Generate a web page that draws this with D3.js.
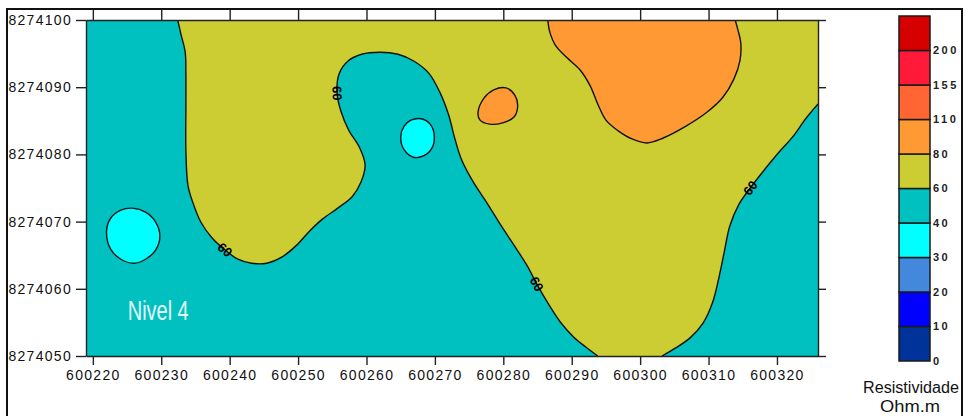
<!DOCTYPE html>
<html>
<head>
<meta charset="utf-8">
<script src="https://cdn.jsdelivr.net/npm/d3@7"></script>
<style>
  body { margin: 0; background: #fff; }
  svg { display: block; }
  .axis text { font-family: "Liberation Sans", Arial, sans-serif; font-size: 14px; letter-spacing: 1.3px; fill: #111; }
  .axis path, .axis line { stroke: #222; stroke-width: 1.4px; }
</style>
</head>
<body>
<svg id="chart" width="966" height="416"></svg>
<script>
// extents + ticks (easting / northing, UTM metres)
const xDomain = [600219, 600326];
const yDomain = [8274050, 8274100];
const xTicks = [600220, 600230, 600240, 600250, 600260, 600270, 600280, 600290, 600300, 600310, 600320];
const yTicks = [8274050, 8274060, 8274070, 8274080, 8274090, 8274100];

// colour scale (Ohm.m)
const legendBreaks = [0, 10, 20, 30, 40, 60, 80, 110, 155, 200];
const legendColors = ['#003399', '#0000ff', '#4488dd', '#00ffff', '#00c0c0', '#cccc33', '#ff9933', '#ff6633', '#ff1a3a', '#d60000'];

// isolines, [easting, northing]
const contour60West = [
  [600232.4, 8274100.0], [600232.9, 8274097.8], [600233.5, 8274095.2], [600233.6, 8274091.8],
  [600233.6, 8274086.6], [600233.6, 8274080.7], [600233.9, 8274075.4], [600234.6, 8274072.9],
  [600235.8, 8274069.9], [600237.4, 8274067.6], [600239.3, 8274065.8], [600241.2, 8274064.4],
  [600243.2, 8274063.8], [600245.4, 8274063.8], [600247.6, 8274064.7], [600249.8, 8274066.5],
  [600251.7, 8274068.6], [600253.6, 8274070.4], [600255.8, 8274072.0], [600257.9, 8274073.7],
  [600259.2, 8274075.9], [600259.8, 8274078.4], [600259.0, 8274081.0], [600257.4, 8274083.6],
  [600256.3, 8274086.3], [600255.7, 8274089.1], [600256.0, 8274092.0], [600257.3, 8274093.9],
  [600259.3, 8274094.9], [600262.0, 8274095.2], [600264.6, 8274094.9], [600266.9, 8274093.9],
  [600269.1, 8274092.1], [600270.7, 8274089.3], [600272.0, 8274085.9], [600272.9, 8274082.4],
  [600273.9, 8274079.2], [600275.6, 8274075.9], [600277.6, 8274072.8], [600279.8, 8274069.2],
  [600282.0, 8274065.8], [600283.5, 8274063.4], [600284.9, 8274060.7], [600286.5, 8274057.9],
  [600288.3, 8274055.1], [600290.3, 8274052.8], [600292.1, 8274051.3], [600293.8, 8274050.0]
];
const contour60East = [
  [600303.2, 8274050.0], [600305.2, 8274051.2], [600307.3, 8274052.7], [600309.2, 8274054.9],
  [600310.6, 8274058.0], [600311.5, 8274061.6], [600312.3, 8274065.5], [600313.1, 8274069.3],
  [600314.4, 8274072.5], [600316.1, 8274075.0], [600318.0, 8274077.5], [600320.1, 8274080.1],
  [600322.3, 8274082.6], [600324.2, 8274085.3], [600326.0, 8274087.5]
];
const contour80North = [
  [600286.5, 8274100.0], [600286.8, 8274098.2], [600287.7, 8274096.1], [600289.4, 8274094.3],
  [600291.2, 8274092.6], [600292.7, 8274090.2], [600293.8, 8274087.5], [600295.0, 8274085.1],
  [600296.8, 8274083.5], [600298.8, 8274082.3], [600301.0, 8274081.7], [600303.3, 8274082.4],
  [600306.7, 8274084.2], [600309.8, 8274086.3], [600312.1, 8274088.5], [600313.7, 8274091.2],
  [600314.6, 8274094.0], [600314.7, 8274096.7], [600314.3, 8274098.5], [600313.9, 8274100.0]
];
const contour80Small = [
  [600276.3, 8274086.2], [600277.2, 8274088.4], [600278.6, 8274089.6], [600280.4, 8274089.9],
  [600281.7, 8274088.8], [600282.1, 8274087.2], [600281.6, 8274085.6], [600279.9, 8274084.7],
  [600278.0, 8274084.5], [600276.6, 8274085.1]
];
const contour40West = [
  [600222.0, 8274068.5], [600222.6, 8274070.5], [600224.1, 8274071.7], [600225.8, 8274072.0],
  [600227.7, 8274071.4], [600229.2, 8274069.9], [600229.8, 8274067.9], [600229.2, 8274065.8],
  [600227.7, 8274064.4], [600226.0, 8274063.8], [600224.1, 8274064.4], [600222.6, 8274065.9]
];
const contour40Central = [
  [600265.0, 8274082.6], [600265.5, 8274084.2], [600266.5, 8274085.1], [600268.0, 8274085.3],
  [600269.3, 8274084.5], [600269.9, 8274082.9], [600269.6, 8274081.0], [600268.4, 8274079.8],
  [600266.8, 8274079.6], [600265.5, 8274080.7]
];

// where the "60" labels sit (vertex index on the line)
const labelVertices = [['west', 10], ['west', 25], ['west', 42], ['east', 9]];
const mapTitle = { text: 'Nivel 4', x: 600225.1, y: 8274055.4 };

const lines = {
  west: { level: 60, points: contour60West, closed: false },
  east: { level: 60, points: contour60East, closed: false },
  north: { level: 80, points: contour80North, closed: false },
  small80: { level: 80, points: contour80Small, closed: true },
  west40: { level: 40, points: contour40West, closed: true },
  mid40: { level: 40, points: contour40Central, closed: true }
};

const x = d3.scaleLinear().domain(xDomain).range([86, 818]);
const y = d3.scaleLinear().domain(yDomain).range([356, 20]);

const openCurve = d3.line().x(d => x(d[0])).y(d => y(d[1])).curve(d3.curveCatmullRom.alpha(0.5));
const closedCurve = d3.line().x(d => x(d[0])).y(d => y(d[1])).curve(d3.curveCatmullRomClosed.alpha(0.5));
const band = v => legendColors[d3.bisectRight(legendBreaks, v) - 1];

const svg = d3.select('#chart');

// outer frame
svg.append('rect')
  .attr('x', 7).attr('y', 9).attr('width', 955).attr('height', 430)
  .attr('fill', '#fff').attr('stroke', '#111').attr('stroke-width', 2);

svg.append('defs').append('clipPath').attr('id', 'plot-clip')
  .append('rect')
  .attr('x', x.range()[0]).attr('y', y.range()[1])
  .attr('width', x.range()[1] - x.range()[0])
  .attr('height', y.range()[0] - y.range()[1]);

const map = svg.append('g').attr('clip-path', 'url(#plot-clip)');

// base band 40-60
map.append('rect')
  .attr('x', x.range()[0]).attr('y', y.range()[1])
  .attr('width', x.range()[1] - x.range()[0])
  .attr('height', y.range()[0] - y.range()[1])
  .attr('fill', band(40));

// 60-80 band
map.append('path')
  .attr('d', openCurve(contour60West) + openCurve(contour60East).replace(/^M/, 'L') +
    'L' + x(xDomain[1]) + ',' + y(yDomain[1]) + 'Z')
  .attr('fill', band(60));

// 80-110 band
map.append('path').attr('d', openCurve(contour80North) + 'Z').attr('fill', band(80));
map.append('path').attr('d', closedCurve(contour80Small)).attr('fill', band(80));

// 30-40 band
map.selectAll('.low')
  .data([contour40West, contour40Central])
  .join('path')
  .attr('class', 'low')
  .attr('d', d => closedCurve(d))
  .attr('fill', band(30));

// isolines
map.selectAll('.iso')
  .data(Object.values(lines))
  .join('path')
  .attr('class', 'iso')
  .attr('d', d => (d.closed ? closedCurve : openCurve)(d.points))
  .attr('fill', 'none')
  .attr('stroke', '#111')
  .attr('stroke-width', 1.4);

// labels on the lines, rotated along the local direction
labelVertices.forEach(([key, i]) => {
  const pts = lines[key].points;
  const a = pts[Math.max(0, i - 1)], b = pts[Math.min(pts.length - 1, i + 1)];
  let ang = Math.atan2(y(b[1]) - y(a[1]), x(b[0]) - x(a[0])) * 180 / Math.PI;
  if (ang > 90) ang -= 180;
  if (ang <= -90) ang += 180;
  map.append('text')
    .attr('transform', 'translate(' + x(pts[i][0]) + ',' + y(pts[i][1]) + ') rotate(' + ang + ')')
    .attr('text-anchor', 'middle')
    .attr('dy', '0.35em')
    .attr('font-family', '"Liberation Sans", Arial, sans-serif')
    .attr('font-weight', 'bold')
    .attr('font-size', 13)
    .attr('fill', '#000')
    .text(lines[key].level);
});

map.append('text')
  .attr('x', x(mapTitle.x)).attr('y', y(mapTitle.y))
  .attr('font-family', '"Liberation Sans Narrow", "Arial Narrow", "Liberation Sans", sans-serif')
  .attr('font-size', 27)
  .attr('textLength', 61).attr('lengthAdjust', 'spacingAndGlyphs')
  .attr('fill', '#e4f8f8')
  .text(mapTitle.text);

// axes
svg.append('g').attr('class', 'axis')
  .attr('transform', 'translate(0,' + y.range()[0] + ')')
  .call(d3.axisBottom(x).tickValues(xTicks).tickSize(9).tickPadding(5).tickSizeOuter(0).tickFormat(d3.format('d')));
svg.append('g').attr('class', 'axis')
  .attr('transform', 'translate(0,' + y.range()[1] + ')')
  .call(d3.axisTop(x).tickValues(xTicks).tickSize(10).tickSizeOuter(0).tickFormat(''));
svg.append('g').attr('class', 'axis')
  .attr('transform', 'translate(' + x.range()[0] + ',0)')
  .call(d3.axisLeft(y).tickValues(yTicks).tickSize(10).tickPadding(4).tickSizeOuter(0).tickFormat(d3.format('d')));
svg.append('g').attr('class', 'axis')
  .attr('transform', 'translate(' + x.range()[1] + ',0)')
  .call(d3.axisRight(y).tickValues(yTicks).tickSize(8).tickSizeOuter(0).tickFormat(''));

// legend
const ly = d3.scaleLinear().domain([0, legendColors.length]).range([361, 16]);
const legend = svg.append('g');
legend.selectAll('rect')
  .data(legendColors)
  .join('rect')
  .attr('x', 899).attr('width', 31)
  .attr('y', (d, i) => ly(i + 1))
  .attr('height', (d, i) => ly(i) - ly(i + 1))
  .attr('fill', d => d)
  .attr('stroke', '#1a1a1a').attr('stroke-width', 1.5);
legend.selectAll('text')
  .data(legendBreaks)
  .join('text')
  .attr('x', 933)
  .attr('y', (d, i) => ly(i))
  .attr('dy', '0.35em')
  .attr('font-family', '"Liberation Sans", Arial, sans-serif')
  .attr('font-weight', 'bold')
  .attr('font-size', 11)
  .attr('letter-spacing', '2.5px')
  .attr('fill', '#222')
  .text(d => d);

const unitFont = '"Liberation Sans Narrow", "Arial Narrow", "Liberation Sans", sans-serif';
legend.append('text')
  .attr('x', 863).attr('y', 393)
  .attr('font-family', unitFont).attr('font-size', 16)
  .attr('textLength', 96).attr('lengthAdjust', 'spacingAndGlyphs')
  .attr('fill', '#111')
  .text('Resistividade');
legend.append('text')
  .attr('x', 880).attr('y', 412)
  .attr('font-family', unitFont).attr('font-size', 16)
  .attr('textLength', 60).attr('lengthAdjust', 'spacingAndGlyphs')
  .attr('fill', '#111')
  .text('Ohm.m');
</script>
</body>
</html>
